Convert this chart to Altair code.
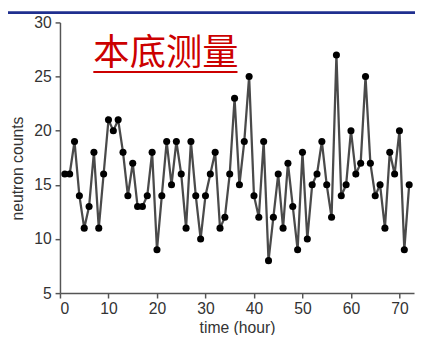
import altair as alt
import pandas as pd

hours = [1, 2, 3, 4, 5, 6, 7, 8, 9, 10, 11, 12, 13, 14, 15, 16, 17, 18,
         19, 20, 21, 22, 23, 24, 25, 26, 27, 28, 29, 30, 31, 32, 33, 34, 35, 36,
         37, 38, 39, 40, 41, 42, 43, 44, 45, 46, 47, 48, 49, 50, 51, 52, 53, 54,
         55, 56, 57, 58, 59, 60, 61, 62, 63, 64, 65, 66, 67, 68, 69, 70, 71, 72]
counts = [16, 16, 19, 14, 11, 13, 18, 11, 16, 21, 20, 21, 18, 14, 17, 13, 13, 14,
          18, 9, 14, 19, 15, 19, 16, 11, 19, 14, 10, 14, 16, 18, 11, 12, 16, 23,
          15, 19, 25, 14, 12, 19, 8, 12, 16, 11, 17, 13, 9, 18, 10, 15, 16, 19,
          15, 12, 27, 14, 15, 20, 16, 17, 25, 17, 14, 15, 11, 18, 16, 20, 9, 15]
title_text = ["本底测量"]
x_ticks = [0, 10, 20, 30, 40, 50, 60, 70]
y_ticks = [5, 10, 15, 20, 25, 30]

df = pd.DataFrame({"hour": hours, "count": counts})
tdf = pd.DataFrame({"t": title_text})

W, H = 361, 276

x_enc = alt.X("hour:Q",
              scale=alt.Scale(domain=[0, 73], nice=False, zero=False),
              axis=alt.Axis(values=x_ticks, title="time (hour)", grid=False,
                            tickSize=5, labelPadding=3,
                            titleY=35, titleBaseline="middle"))
y_enc = alt.Y("count:Q",
              scale=alt.Scale(domain=[5, 30], nice=False, zero=False),
              axis=alt.Axis(values=y_ticks, title="neutron counts", grid=False,
                            tickSize=5, labelPadding=4,
                            titleX=-43, titleY=148.5, titleBaseline="middle"))

line = alt.Chart(df).mark_line(color="#4a4a4a", strokeWidth=2.3).encode(x=x_enc, y=y_enc)
pts = alt.Chart(df).mark_circle(size=52, color="black", opacity=1).encode(x="hour:Q", y="count:Q")

title = alt.Chart(tdf).mark_text(font="Noto Sans CJK SC", fontSize=37, color="#cc0000",
                                 align="center", baseline="alphabetic").encode(
    x=alt.value(108), y=alt.value(43), text="t:N")
underline = alt.Chart(tdf).mark_rule(color="#cc0000", strokeWidth=2).encode(
    x=alt.value(34), x2=alt.value(181), y=alt.value(50.5))
bar = alt.Chart(tdf).mark_rect(color="#1f2f8f").encode(
    x=alt.value(-53), x2=alt.value(362), y=alt.value(-11.5), y2=alt.value(-8.5))

chart = alt.layer(line, pts, title, underline, bar).properties(
    width=W, height=H,
    autosize=alt.AutoSizeParams(type="none"),
    padding={"left": 53, "top": 11.5, "right": 1, "bottom": 39.5},
).configure_view(stroke=None).configure_axis(
    domainColor="#555", tickColor="#555", domainWidth=1.5, tickWidth=1.5,
    labelColor="#333", titleColor="#333",
    labelFont="Liberation Sans", titleFont="Liberation Sans",
    labelFontSize=16, titleFontSize=16, titleFontWeight="normal",
)

chart.save("out.html", embed_options={"renderer": "svg", "actions": False})
